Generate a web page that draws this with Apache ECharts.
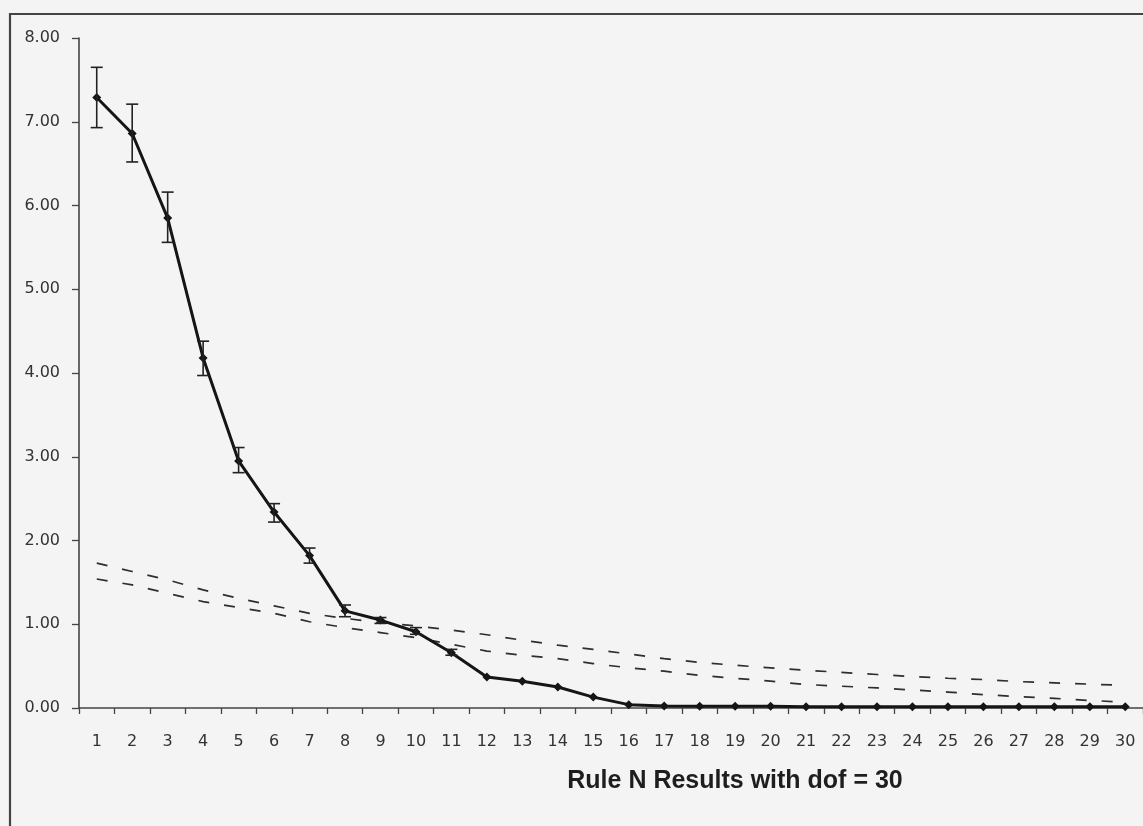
<!DOCTYPE html>
<html>
<head>
<meta charset="utf-8">
<script src="https://cdn.jsdelivr.net/npm/echarts@6/dist/echarts.min.js"></script>
<style>html,body{margin:0;padding:0;background:#f4f4f4;}#c{width:1143px;height:826px;}</style>
</head>
<body>
<div id="c"></div>
<script>
var categories = ['1','2','3','4','5','6','7','8','9','10','11','12','13','14','15','16','17','18','19','20','21','22','23','24','25','26','27','28','29','30'];
var ruleN = [7.29,6.86,5.85,4.18,2.95,2.34,1.82,1.16,1.05,0.91,0.66,0.37,0.32,0.25,0.13,0.04,0.025,0.02,0.02,0.02,0.015,0.015,0.015,0.015,0.015,0.015,0.015,0.015,0.015,0.015];
var errHigh = [7.65,7.21,6.16,4.38,3.11,2.44,1.91,1.23,1.08,0.96,0.70,null,null,null,null,null,null,null,null,null,null,null,null,null,null,null,null,null,null,null];
var errLow  = [6.93,6.52,5.56,3.97,2.81,2.22,1.73,1.09,1.01,0.88,0.63,null,null,null,null,null,null,null,null,null,null,null,null,null,null,null,null,null,null,null];
var upperDash = [1.73,1.63,1.53,1.41,1.31,1.22,1.13,1.07,1.02,0.98,0.93,0.875,0.81,0.75,0.70,0.645,0.59,0.545,0.51,0.48,0.45,0.425,0.40,0.375,0.355,0.34,0.315,0.30,0.285,0.27];
var lowerDash = [1.54,1.47,1.37,1.27,1.20,1.13,1.03,0.96,0.90,0.84,0.76,0.68,0.63,0.59,0.53,0.48,0.44,0.39,0.355,0.32,0.28,0.26,0.24,0.215,0.19,0.16,0.135,0.115,0.09,0.07];
var yTicks = ['0.00','1.00','2.00','3.00','4.00','5.00','6.00','7.00','8.00'];
var titleText = 'Rule N Results with dof = 30';

var errData = [];
for (var i = 0; i < categories.length; i++) {
  if (errHigh[i] != null) errData.push([i, errLow[i], errHigh[i]]);
}

var chart = echarts.init(document.getElementById('c'), null, {renderer: 'canvas'});
chart.setOption({
  backgroundColor: '#f4f4f4',
  animation: false,
  grid: {left: 79, right: -3, top: 38, bottom: 118, containLabel: false},
  xAxis: {
    type: 'category',
    data: categories,
    boundaryGap: true,
    axisLine: {lineStyle: {color: '#444', width: 1.6}},
    axisTick: {show: true, length: 6, alignWithLabel: false, lineStyle: {color: '#444', width: 1.3}},
    axisLabel: {interval: 0, margin: 26, color: '#333', fontFamily: 'DejaVu Sans', fontSize: 16},
    splitLine: {show: false}
  },
  yAxis: {
    type: 'value',
    min: 0, max: 8, interval: 1,
    axisLine: {show: true, lineStyle: {color: '#444', width: 1.6}},
    axisTick: {show: true, length: 7, lineStyle: {color: '#444', width: 1.3}},
    axisLabel: {margin: 19, color: '#333', fontFamily: 'DejaVu Sans', fontSize: 16,
      formatter: function (v) { return yTicks[Math.round(v)]; }},
    splitLine: {show: false}
  },
  graphic: [
    {type: 'rect', shape: {x: 10, y: 14, width: 1200, height: 900}, style: {fill: 'none', stroke: '#444', lineWidth: 2.2}, z: 0},
    {type: 'text', x: 735, y: 781, style: {text: titleText, font: 'bold 25px "Liberation Sans", Arial, sans-serif', fill: '#1e1e1e', textAlign: 'center', textVerticalAlign: 'middle'}}
  ],
  series: [
    {
      type: 'line', data: upperDash, symbol: 'none', silent: true,
      lineStyle: {color: '#2e2e2e', width: 1.7, type: [11, 15]}, z: 2
    },
    {
      type: 'line', data: lowerDash, symbol: 'none', silent: true,
      lineStyle: {color: '#2e2e2e', width: 1.7, type: [11, 15]}, z: 2
    },
    {
      type: 'line', data: ruleN, symbol: 'diamond', symbolSize: 9,
      itemStyle: {color: '#151515'},
      lineStyle: {color: '#151515', width: 3}, z: 4
    },
    {
      type: 'custom', data: errData, z: 5,
      renderItem: function (params, api) {
        var x = api.value(0);
        var lo = api.coord([x, api.value(1)]);
        var hi = api.coord([x, api.value(2)]);
        var hw = 6;
        var st = {stroke: '#222', lineWidth: 1.6, fill: 'none'};
        return {type: 'group', children: [
          {type: 'line', shape: {x1: lo[0], y1: lo[1], x2: hi[0], y2: hi[1]}, style: st},
          {type: 'line', shape: {x1: lo[0] - hw, y1: lo[1], x2: lo[0] + hw, y2: lo[1]}, style: st},
          {type: 'line', shape: {x1: hi[0] - hw, y1: hi[1], x2: hi[0] + hw, y2: hi[1]}, style: st}
        ]};
      }
    }
  ]
});
</script>
</body>
</html>
